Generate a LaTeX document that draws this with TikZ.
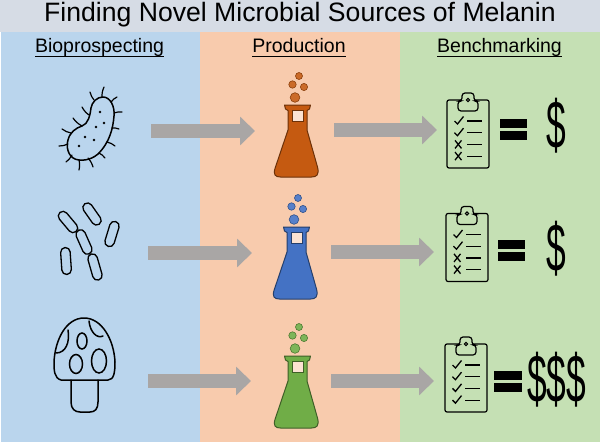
\documentclass[tikz,border=0pt]{standalone}
\usepackage{fontspec}
\setmainfont{Liberation Sans}
\usetikzlibrary{calc,positioning,shapes.misc,shapes.geometric,arrows.meta}
\definecolor{PanelBlue}{HTML}{BAD5ED}
\definecolor{PanelOrange}{HTML}{F8CBAD}
\definecolor{PanelGreen}{HTML}{C5E0B4}
\definecolor{TitleGrey}{HTML}{D6DCE5}
\definecolor{ArrowGrey}{HTML}{A9A6A5}
\definecolor{FlaskOrange}{HTML}{C55A11}
\definecolor{FlaskBlue}{HTML}{4472C4}
\definecolor{FlaskGreen}{HTML}{70AD47}
\newcommand{\headtext}[1]{\underline{\smash{#1}\rule[-2.2pt]{0pt}{2.2pt}}}
\tikzset{
  heading/.style={font=\fontsize{19.5pt}{22pt}\selectfont, text=black, inner sep=0pt, anchor=base},
  flow/.style={-{Triangle[width=28pt,length=15pt]}, draw=ArrowGrey, line width=14pt},
  outline/.style={draw=black, line width=1.5pt, line cap=round, line join=round},
  cilium/.style={draw=black, line width=1.2pt, line cap=round},
  rod/.style={rounded rectangle, draw=black, line width=1.3pt, minimum height=9.5pt, inner sep=0pt},
  spot/.style={ellipse, draw=black, line width=1.5pt, inner sep=0pt},
  speck/.style={circle, fill=black, inner sep=0pt, minimum size=2.6pt},
  bar/.style={fill=black, draw=none, minimum width=27.5pt, minimum height=9pt, inner sep=0pt},
  price/.style={font=\fontsize{68pt}{68pt}\selectfont, xscale=0.52, inner sep=0pt},
  pics/flask/.style={code={
    \foreach \x/\y/\r in {2.5/-29/3.5,-4/-20.5/3.7,7.5/-18/3.6,-1.5/-7.5/4.8}
      \draw[draw=#1!70!black, fill=#1!90!white, line width=0.6pt] (\x,\y) circle (\r);
    \draw[draw=#1!55!black, fill=#1, line width=1pt, line join=round]
      (-12,0) -- (14,0) -- (13,4) -- (10.5,5.5) -- (10.5,25) -- (21,62)
      .. controls (23,70) and (20,72) .. (15,72) -- (-16,72)
      .. controls (-21,72) and (-24,70) .. (-21,62) -- (-8.5,25) -- (-8.5,5.5) -- (-11,4) -- cycle;
    \draw[draw=#1!55!black, fill=PanelOrange!55!white, line width=1pt] (-4.5,5) rectangle (6.5,16);
  }},
  pics/clipboard/.style n args={1}{code={
    \draw[draw=black, line width=1.2pt, rounded corners=2pt] (0,0) rectangle (42,68);
    \draw[draw=black, fill=PanelGreen, line width=1.2pt, rounded corners=3pt] (11,11) -- (11,1) -- (15,1) -- (15,-7) -- (27,-7) -- (27,1) -- (31,1) -- (31,11) -- cycle;
    \draw[black, line width=1pt] (21,0) circle (1.6);
    \foreach \row/\mark in {#1} {
      \draw[black, line width=1.2pt] (20,{21+11.7*\row}) -- (35,{21+11.7*\row});
      \ifnum\mark=1
        \draw[black, line width=1.3pt] (7.5,{21+11.7*\row}) -- (10.5,{24+11.7*\row}) -- (16.5,{16.5+11.7*\row});
      \else
        \draw[black, line width=1.3pt] (8,{17+11.7*\row}) -- (14.5,{25+11.7*\row}) (14.5,{17+11.7*\row}) -- (8,{25+11.7*\row});
      \fi
    }
  }}
}
\begin{document}
\begin{tikzpicture}[x=1pt, y=-1pt]
  \useasboundingbox (0,0) rectangle (600,444);

  % Panels
  \fill[white] (0,0) rectangle (600,444);
  \fill[TitleGrey] (0,0) rectangle (600,32);
  \fill[PanelBlue] (1,32) rectangle (200,442);
  \fill[PanelOrange] (200,32) rectangle (400,442);
  \fill[PanelGreen] (400,32) rectangle (600,442);

  % Headings
  \node[inner sep=0pt, anchor=base, font=\fontsize{26.6pt}{30pt}\selectfont] (title) at (300,21.7) {Finding Novel Microbial Sources of Melanin};
  \node[heading] (bio) at (99.5,52.3) {\headtext{Bioprospecting}};
  \node[heading] (prod) at (299,52.3) {\headtext{Production}};
  \node[heading] (bench) at (499.5,52.3) {\headtext{Benchmarking}};

  % Bacterium
  \draw[outline] (103,97) .. controls (110,97) and (115,106) .. (114,116)
    .. controls (113,128) and (110,142) .. (98,154)
    .. controls (90,161) and (80,161) .. (75,159)
    .. controls (68,156) and (66,147) .. (68,140)
    .. controls (70,132) and (76,128) .. (82,126)
    .. controls (88,124) and (90,116) .. (91,108)
    .. controls (92,102) and (97,97) .. (103,97);
  \foreach \a/\b/\c/\d in {90/92/94/100,104/87/102/97,117/97/111/102,122/112/114/113,119/129/112/128,115/146/107/142,105/158/99/153,93/167/88/158,79/170/79/160,66/162/72/155,59/146/68/144,62/129/71/133,73/118/82/126,82/107/89/115}
    \draw[cilium] (\a,\b) to[bend right=12] (\c,\d);
  \foreach \x/\y in {100/112,96/127,104/123,85/137,94/140,79/146}
    \node[speck] at (\x,\y) {};

  % Rods
  \node[rod, rotate=-50, minimum width=25pt] (r1) at (68,222) {};
  \node[rod, rotate=-55, minimum width=25pt] (r2) at (92,214) {};
  \node[rod, rotate=73, minimum width=26pt] (r3) at (112,234) {};
  \node[rod, rotate=-66, minimum width=26pt] (r4) at (84,242) {};
  \node[rod, rotate=-86, minimum width=27pt] (r5) at (66,261) {};
  \node[rod, rotate=-74, minimum width=27pt] (r6) at (95,267) {};

  % Mushroom
  \draw[outline] (61,380) .. controls (54,378) and (54,370) .. (54,362)
    .. controls (55,340) and (66,318) .. (84,318)
    .. controls (102,318) and (114,340) .. (115,362)
    .. controls (115,372) and (114,380) .. (108,380) -- cycle;
  \draw[outline] (71,380) -- (71,402) .. controls (71,409) and (75,412) .. (80,412) -- (90,412)
    .. controls (95,412) and (98,409) .. (98,402) -- (98,380);
  \draw[outline] (89,321) .. controls (90,332) and (97,339) .. (103,336);
  \draw[outline] (68,330) .. controls (70,342) and (66,353) .. (56,353);
  \node[spot, minimum width=10pt, minimum height=16pt] (s1) at (82,341) {};
  \node[spot, minimum width=13pt, minimum height=19pt] (s2) at (76,364) {};
  \node[spot, minimum width=15pt, minimum height=24pt] (s3) at (99,361) {};

  % Flasks
  \pic at (296.5,105) {flask=FlaskOrange};
  \pic at (295.5,227) {flask=FlaskBlue};
  \pic at (296.5,356) {flask=FlaskGreen};

  % Clipboards
  \pic at (447,100) {clipboard={0/1,1/1,2/0,3/0}};
  \pic at (446,213.5) {clipboard={0/1,1/1,2/0,3/0}};
  \pic at (445,344) {clipboard={0/1,1/1,2/1,3/1}};

  % Arrows
  \coordinate (a1) at (151,131); \coordinate (b1) at (255,131);
  \coordinate (c1) at (334,130); \coordinate (d1) at (437,130);
  \coordinate (a2) at (148,253); \coordinate (b2) at (252,253);
  \coordinate (c2) at (331,252); \coordinate (d2) at (434,252);
  \coordinate (a3) at (148,381); \coordinate (b3) at (251,381);
  \coordinate (c3) at (331,381); \coordinate (d3) at (434,381);
  \foreach \i in {1,2,3} {
    \draw[flow] (a\i) -- (b\i);
    \draw[flow] (c\i) -- (d\i);
  }

  % Values
  \node[bar] (e1a) at (513.5,123) {};
  \node[bar] (e1b) at (513.5,135) {};
  \node[bar] (e2a) at (511.5,244) {};
  \node[bar] (e2b) at (511.5,256) {};
  \node[bar] (e3a) at (508,375) {};
  \node[bar] (e3b) at (508,387) {};
  \node[price] (p1) at (556.7,125.5) {\$};
  \node[price] (p2) at (556,249) {\$};
  \node[price] (p3a) at (537,380) {\$};
  \node[price] (p3b) at (556,380) {\$};
  \node[price] (p3c) at (576,380) {\$};
\end{tikzpicture}
\end{document}
